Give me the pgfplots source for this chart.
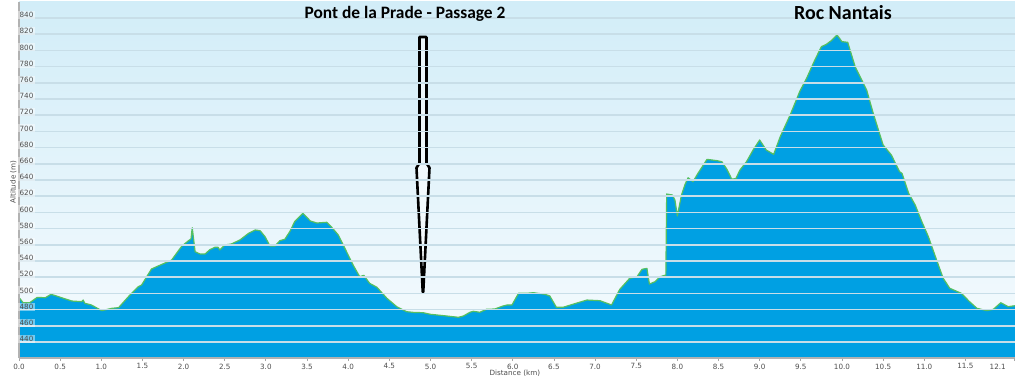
\documentclass[border=0pt]{standalone}
\usepackage{fontspec}
\usepackage{pgfplots}
\pgfplotsset{compat=1.18}
\usepackage{pgfplotstable}
\setmainfont{DejaVu Sans}
\newfontfamily\titlefont{Carlito}

\definecolor{profblue}{RGB}{0,160,227}
\definecolor{profgreen}{RGB}{86,192,96}
\definecolor{gridc}{RGB}{200,222,232}
\definecolor{bgtop}{RGB}{210,237,248}
\definecolor{bgbot}{RGB}{246,251,254}

\pgfplotstableread{
km alt
0.00 495
0.05 488.5
0.13 488.5
0.22 495
0.32 494.7
0.39 498.9
0.48 496
0.64 490.6
0.76 489.8
0.78 491.8
0.80 487.8
0.88 485.7
1.005 478.7
1.13 481.6
1.21 482.4
1.33 496
1.45 508.3
1.49 510.4
1.61 530.1
1.69 533.8
1.81 539.1
1.855 541.2
1.92 550.3
1.98 558.5
2.06 565.1
2.09 567.2
2.105 581.1
2.14 551.5
2.20 548.6
2.26 548.6
2.32 554
2.38 556.9
2.42 556.9
2.44 553.6
2.50 559.8
2.58 561
2.685 566
2.79 574.2
2.87 578.3
2.93 577.4
2.99 570
3.05 558.5
3.11 558.5
3.17 565.1
3.23 566.8
3.29 576.2
3.35 588.6
3.45 598.9
3.54 589.4
3.62 586.9
3.74 587.8
3.80 581.6
3.88 572.1
3.98 551.5
4.06 535
4.14 520.6
4.19 522.3
4.26 512.5
4.35 507.5
4.47 494
4.59 483.6
4.71 477.4
4.80 476.5
4.91 476.2
5.00 474.2
5.16 472.5
5.34 470.5
5.40 472.1
5.48 476.7
5.52 477.9
5.60 476.7
5.68 480.4
5.78 480.7
5.88 484.4
5.93 485.7
5.99 485.7
6.07 500.1
6.17 500.1
6.25 500.9
6.39 498.9
6.45 496.8
6.53 482.8
6.61 482.8
6.74 486.9
6.90 491.8
7.06 491
7.20 485.7
7.30 505
7.42 518.6
7.51 520.6
7.57 529.7
7.63 530.9
7.66 511.6
7.73 514.5
7.79 520.6
7.86 522.7
7.87 622.7
7.94 621.5
7.97 615.3
8.00 595.6
8.05 621.5
8.09 633.8
8.13 642.8
8.19 637.9
8.25 648.2
8.36 665.5
8.48 663.9
8.54 662.6
8.60 653.6
8.66 641.2
8.71 641.6
8.76 652.3
8.84 662.6
8.92 677
9.00 689.4
9.08 677
9.17 671.7
9.25 693.5
9.37 720.2
9.49 750
9.57 765.5
9.67 788.1
9.75 804.6
9.81 807.5
9.87 812
9.94 819
10.00 810.8
10.07 810
10.16 779.9
10.30 751.1
10.38 722.3
10.50 683.2
10.60 670.9
10.70 650.2
10.73 648.2
10.81 623.6
10.89 609.1
10.97 588.6
11.05 570
11.15 541.2
11.23 518.6
11.31 506.3
11.45 500.1
11.55 489.8
11.64 481.6
11.76 478.7
11.84 480.4
11.93 488.5
12.02 483.6
12.10 484.8
}\profile

\begin{document}
\begin{tikzpicture}
\useasboundingbox (0,0) rectangle (512pt,190.5pt);
\begin{axis}[
  at={(9.5pt,11.4pt)}, anchor=south west,
  scale only axis, width=497.9pt, height=178.2pt,
  xmin=0, xmax=12.1, ymin=420, ymax=860,
  axis lines=left,
  axis line style={-, draw=gray!60, line width=0.9pt},
  axis background/.style={top color=bgtop, bottom color=bgbot},
  axis on top,
  ytick={440,460,...,840},
  ymajorgrids,
  major grid style={draw=gridc, line width=0.75pt},
  ytick style={draw=none},
  yticklabel style={anchor=west, xshift=1pt, yshift=1.5pt, inner sep=0.6pt,
    fill=white, fill opacity=0.45, text opacity=1,
    font=\fontsize{3.6}{4}\selectfont, text=gray!60!black},
  yticklabel={\pgfmathprintnumber[fixed, precision=0, assume math mode=true]{\tick}},
  xtick={0,0.5,...,11.5},
  tick align=outside,
  major tick length=1.5pt,
  xtick style={draw=gray!70, line width=0.4pt},
  xticklabel style={font=\fontsize{3.6}{4}\selectfont, text=gray!60!black, yshift=2.3pt},
  xticklabel={\pgfmathprintnumber[fixed, fixed zerofill, precision=1, assume math mode=true]{\tick}},
  extra x ticks={12.1},
  extra x tick labels={12.1},
  extra x tick style={xticklabel style={anchor=north east, xshift=-1pt}},
  xlabel={Distance (km)},
  ylabel={Altitude (m)},
  xlabel style={at={(axis description cs:0.498,-0.041)}, anchor=center,
    font=\fontsize{3.6}{4}\selectfont, text=gray!60!black},
  ylabel style={at={(axis description cs:-0.0057,0.494)}, anchor=center,
    font=\fontsize{3.6}{4}\selectfont, text=gray!60!black},
  clip=true,
]
\addplot[draw=none, fill=profblue] table[x=km, y=alt] {\profile} \closedcycle;
\addplot[draw=profgreen, line width=0.6pt, line join=round] table[x=km, y=alt] {\profile};
\draw[black, line width=1.3pt, fill=white, fill opacity=0.5, line join=round]
  (axis cs:4.866,816.5) -- (axis cs:4.951,816.5) -- (axis cs:4.951,661)
  -- (axis cs:4.988,655) -- (axis cs:4.912,501.7) -- (axis cs:4.906,501.7)
  -- (axis cs:4.830,655) -- (axis cs:4.866,661) -- cycle;
\end{axis}
\node[font=\titlefont\bfseries\fontsize{8.7}{10}\selectfont] at (202.5pt,183.5pt) {Pont de la Prade - Passage 2};
\node[font=\titlefont\bfseries\fontsize{10}{11}\selectfont] at (421.5pt,184pt) {Roc Nantais};
\end{tikzpicture}
\end{document}
